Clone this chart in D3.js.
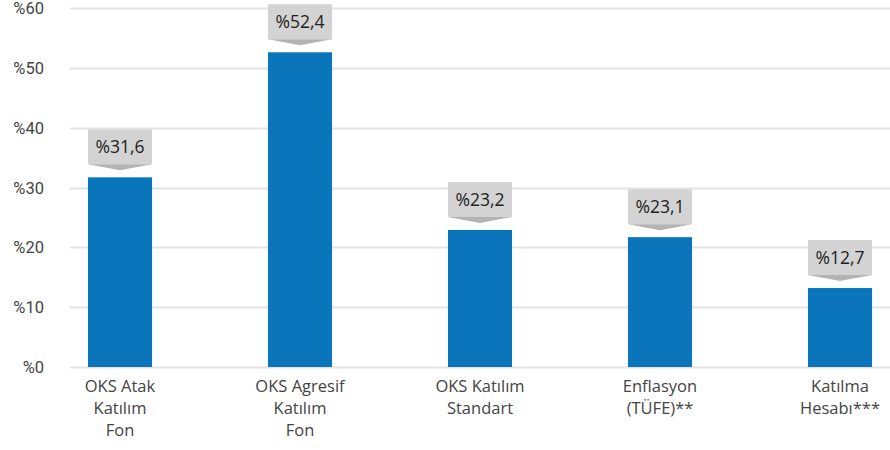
<!DOCTYPE html>
<html><head><meta charset="utf-8">
<script src="https://cdn.jsdelivr.net/npm/d3@7"></script>
<style>
body{margin:0;background:#fff;}
text{font-family:"Open Sans", Roboto, sans-serif;}
</style></head>
<body><svg id="c" width="890" height="450"></svg>
<script>
const categories = [["OKS Atak","Katılım","Fon"],["OKS Agresif","Katılım","Fon"],["OKS Katılım","Standart"],["Enflasyon","(TÜFE)**"],["Katılma","Hesabı***"]];
const values = [31.7, 52.6, 22.9, 21.7, 13.2];
const valueLabels = ["%31,6","%52,4","%23,2","%23,1","%12,7"];
const yTicks = [0,10,20,30,40,50,60];

const svg = d3.select("#c");
const y = d3.scaleLinear().domain([0,60]).range([367,8]);
const x = d3.scaleBand().domain(d3.range(categories.length)).range([30,930]).paddingInner(0.644).paddingOuter(0.322);

svg.append("g").selectAll("line").data(yTicks).join("line")
  .attr("x1",70).attr("x2",890)
  .attr("y1",d=>Math.round(y(d))+0.5).attr("y2",d=>Math.round(y(d))+0.5)
  .attr("stroke","#e3e3e3").attr("stroke-width",2);

svg.append("g").selectAll("text").data(yTicks).join("text")
  .attr("x",44).attr("y",d=>y(d)+6).attr("text-anchor","end")
  .style("font-family","Roboto, sans-serif")
  .attr("font-size",16.5).attr("fill","#444").text(d=>"%"+d);

svg.append("g").selectAll("rect").data(values).join("rect")
  .attr("x",(d,i)=>x(i)).attr("width",x.bandwidth())
  .attr("y",d=>y(d)).attr("height",d=>y(0)-y(d))
  .attr("fill","#0b75bc");

const g = svg.append("g").selectAll("g").data(values).join("g")
  .attr("transform",(d,i)=>`translate(${x(i)},${y(d)})`);
const bw = x.bandwidth();
g.append("rect").attr("x",0).attr("y",-48).attr("width",bw).attr("height",35).attr("fill","#d3d3d3");
g.append("path").attr("d",`M0,-13 L${bw},-13 L${bw/2},-7 Z`).attr("fill","#b3b3b3");
g.append("text").attr("x",bw/2).attr("y",-24).attr("text-anchor","middle")
  .attr("font-size",17.5).attr("fill","#222").text((d,i)=>valueLabels[i]);

const xl = svg.append("g").selectAll("text").data(categories).join("text")
  .attr("x",(d,i)=>x(i)+bw/2).attr("y",392).attr("text-anchor","middle")
  .attr("font-size",16.5).attr("fill","#444");
xl.selectAll("tspan").data(d=>d).join("tspan")
  .attr("x",function(){return this.parentNode.getAttribute("x");})
  .attr("dy",(d,j)=>j===0?0:22).text(d=>d);
</script></body></html>
